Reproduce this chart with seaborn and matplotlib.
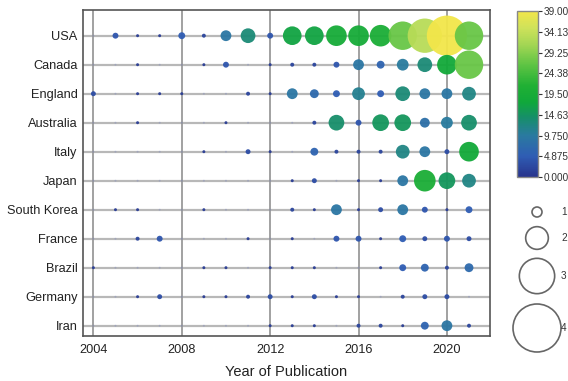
import numpy as np
import pandas as pd
import matplotlib
matplotlib.use("Agg")
import matplotlib.pyplot as plt
from matplotlib.colors import LinearSegmentedColormap, Normalize
from matplotlib.cm import ScalarMappable
import seaborn as sns

countries = ["USA", "Canada", "England", "Australia", "Italy", "Japan",
             "South Korea", "France", "Brazil", "Germany", "Iran"]
years = list(range(2004, 2022))

usa         = [0, 4, 1, 1, 5, 2, 9, 13, 4, 17, 17, 19, 19, 20, 27, 33, 39, 27]
canada      = [0, 0, 1, 0, 0, 1, 4, 0, 1, 2, 2, 4, 9, 6, 10, 13, 18, 27]
england     = [3, 0, 1, 1, 1, 0, 0, 2, 1, 9, 7, 5, 11, 5, 13, 9, 9, 12]
australia   = [0, 0, 1, 0, 0, 0, 1, 0, 0, 0, 2, 14, 4, 15, 15, 8, 10, 14]
italy       = [0, 0, 0, 0, 0, 1, 0, 3, 1, 0, 6, 2, 2, 2, 12, 9, 3, 18]
japan       = [0, 0, 0, 0, 0, 0, 0, 0, 0, 1, 3, 0, 1, 1, 9, 20, 15, 12]
south_korea = [0, 1, 1, 0, 0, 1, 0, 0, 0, 2, 1, 9, 1, 3, 9, 4, 1, 5]
france      = [0, 0, 2, 4, 0, 0, 0, 1, 0, 1, 0, 4, 4, 1, 5, 3, 4, 3]
brazil      = [1, 0, 0, 0, 0, 1, 1, 0, 1, 1, 1, 0, 0, 1, 5, 6, 2, 7]
germany     = [0, 0, 1, 3, 0, 1, 1, 2, 3, 1, 3, 1, 1, 0, 2, 3, 3, 0]
iran        = [0, 0, 0, 0, 0, 0, 0, 0, 1, 1, 1, 0, 2, 2, 1, 6, 9, 2]

series = [usa, canada, england, australia, italy, japan, south_korea,
          france, brazil, germany, iran]

cbar_ticks = [0.0, 4.875, 9.75, 14.625, 19.5, 24.375, 29.25, 34.125, 39.0]
cbar_labels = ["0.000", "4.875", "9.750", "14.63", "19.50", "24.38", "29.25", "34.13", "39.00"]
legend_values = [10, 20, 30, 40]
legend_labels = ["1", "2", "3", "4"]
x_ticks = [2004, 2008, 2012, 2016, 2020]

rows = []
for c, vals in zip(countries, series):
    for y, v in zip(years, vals):
        rows.append({"Country": c, "Year": y, "Count": v})
df = pd.DataFrame(rows)

cmap = LinearSegmentedColormap.from_list("pub", [
    (0.0, "#28348c"), (0.125, "#2f5db4"), (0.25, "#2a7aa0"),
    (0.36, "#168f68"), (0.45, "#10a83a"), (0.55, "#20b034"),
    (0.68, "#60c444"), (0.8, "#a4d654"), (0.9, "#cfe25a"), (1.0, "#f2e64a")])
norm = Normalize(0, 39)

def area(v):
    d_px = 2.0 + 0.98 * v
    return (d_px * 0.72) ** 2

def legend_area(v):
    d_px = 10.0 + (v - 10) * 38.0 / 30.0
    return (d_px * 0.72) ** 2

sns.set_style("white")
plt.rcParams["font.family"] = ["Liberation Sans", "DejaVu Sans"]

fig = plt.figure(figsize=(5.68, 3.81), dpi=100)
ax = fig.add_axes([83 / 568, 1 - 336 / 381, 407 / 568, 326 / 381])

# grid
for i in range(len(countries)):
    ax.axhline(i, color="#b8b8b8", lw=1.6, zorder=0)
for xv in x_ticks:
    ax.axvline(xv, color="#9a9a9a", lw=1.3, zorder=0)

zero = df[df["Count"] == 0]
nonzero = df[df["Count"] > 0]

sns.scatterplot(data=zero, x="Year", y="Country", ax=ax, color="#6070c0",
                s=area(0), alpha=0.25, edgecolor="none", legend=False, zorder=2)
sizes = {v: area(v) for v in sorted(nonzero["Count"].unique())}
sns.scatterplot(data=nonzero, x="Year", y="Country", hue="Count", palette=cmap,
                hue_norm=norm, size="Count", sizes=sizes, ax=ax, alpha=0.95,
                edgecolor="none", legend=False, zorder=3)

ax.set_xlim(2003.53, 2021.95)
ax.set_ylim(10.355, -0.886)
ax.set_xticks(x_ticks)
ax.set_xticklabels([str(x) for x in x_ticks])
ax.set_yticks(range(len(countries)))
ax.set_yticklabels(countries)
ax.tick_params(axis="x", labelsize=9.2, length=0, pad=6, colors="#222222")
ax.tick_params(axis="y", labelsize=9.2, length=0, pad=4, colors="#222222")
ax.set_xlabel("Year of Publication", fontsize=10.5, labelpad=6, color="#222222")
ax.set_ylabel("")
for s in ax.spines.values():
    s.set_visible(True)
    s.set_color("#555555")
    s.set_linewidth(1.2)

# colorbar
cax = fig.add_axes([517 / 568, 1 - 177 / 381, 21 / 568, 166 / 381])
cb = fig.colorbar(ScalarMappable(norm=norm, cmap=cmap), cax=cax)
cb.set_ticks(cbar_ticks)
cb.set_ticklabels(cbar_labels)
cb.ax.tick_params(labelsize=7.2, length=3, width=0.8, pad=1, colors="#333333")
cb.outline.set_edgecolor("#888888")
cb.outline.set_linewidth(1.0)

# size legend
lax = fig.add_axes([505 / 568, 0, 63 / 568, 1])
lax.set_xlim(505, 568)
lax.set_ylim(381, 0)
lax.axis("off")
ly = [212, 238, 276, 328]
leg = pd.DataFrame({"x": [537] * 4, "y": ly, "v": legend_values})
sns.scatterplot(data=leg, x="x", y="y", size="v",
                sizes={v: legend_area(v) for v in legend_values},
                facecolor="white", edgecolor="#666666", linewidth=1.2,
                legend=False, ax=lax, clip_on=False)
lax.set_xlabel("")
lax.set_ylabel("")
for y, lab in zip(ly, legend_labels):
    lax.text(561, y, lab, fontsize=7.2, va="center", ha="left", color="#333333",
             clip_on=False)

fig.savefig("out.png", dpi=100)
